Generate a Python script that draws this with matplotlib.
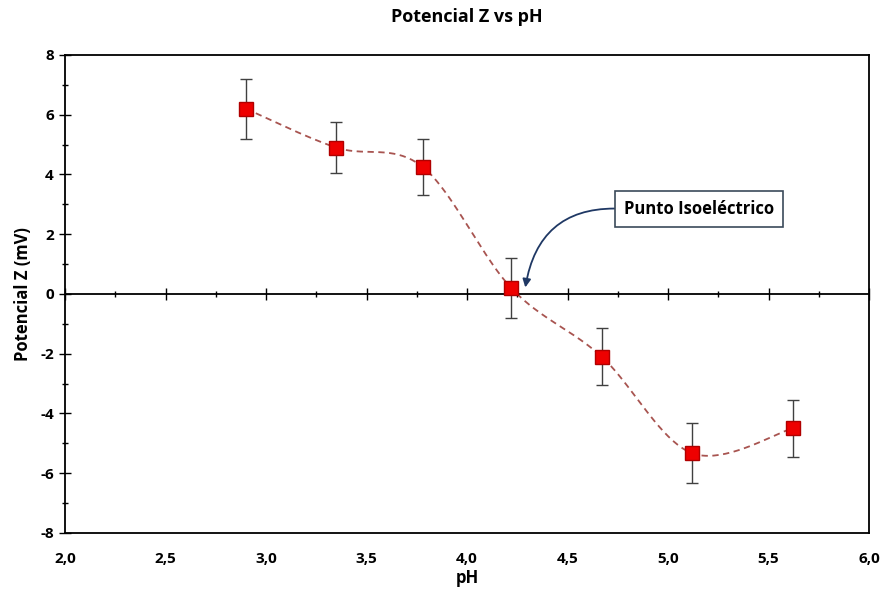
import numpy as np
import matplotlib.pyplot as plt
from matplotlib.ticker import MultipleLocator, FuncFormatter

# measured zeta potential vs pH
ph = [2.90, 3.35, 3.78, 4.22, 4.67, 5.12, 5.62]
zeta = [6.2, 4.9, 4.25, 0.2, -2.1, -5.33, -4.5]
zeta_err = [1.0, 0.85, 0.95, 1.0, 0.95, 1.0, 0.95]

plt.rcParams['font.family'] = ['Open Sans', 'DejaVu Sans']
plt.rcParams['axes.unicode_minus'] = False


def smooth_curve(x, y, n=40):
    # cubic bezier through the points, control points from neighbours (like a spreadsheet "smoothed line")
    p = np.column_stack([x, y])
    p = np.vstack([p[0], p, p[-1]])
    out = []
    for i in range(1, len(p) - 2):
        p0, p1, p2, p3 = p[i - 1], p[i], p[i + 1], p[i + 2]
        c1 = p1 + (p2 - p0) / 6
        c2 = p2 - (p3 - p1) / 6
        t = np.linspace(0, 1, n)[:, None]
        seg = (1 - t) ** 3 * p1 + 3 * (1 - t) ** 2 * t * c1 + 3 * (1 - t) * t ** 2 * c2 + t ** 3 * p2
        out.append(seg)
    seg = np.vstack(out)
    return seg[:, 0], seg[:, 1]


fig = plt.figure(figsize=(8.82, 5.92), dpi=100)
ax = fig.add_axes([0.0737, 0.0997, 0.9116, 0.8074])

sx, sy = smooth_curve(ph, zeta)
ax.plot(sx, sy, ls=(0, (3.5, 2.5)), color='#a85450', lw=1.3, zorder=2)
ax.errorbar(ph, zeta, yerr=zeta_err, fmt='none', ecolor='#404040', elinewidth=1.0,
            capsize=4, capthick=1.0, zorder=3)
ax.plot(ph, zeta, ls='none', marker='s', ms=10, mfc='#ee0000', mec='#b00000', mew=1, zorder=4)

ax.set_xlim(2.0, 6.0)
ax.set_ylim(-8, 8)
ax.yaxis.set_major_locator(MultipleLocator(2))
ax.yaxis.set_minor_locator(MultipleLocator(1))
ax.tick_params(axis='y', which='major', direction='inout', length=8, width=1, labelsize=11, pad=4)
ax.tick_params(axis='y', which='minor', direction='inout', length=5, width=1)
ax.xaxis.set_major_locator(MultipleLocator(0.5))
ax.xaxis.set_major_formatter(FuncFormatter(lambda v, _: f"{v:.1f}".replace('.', ',')))
ax.tick_params(axis='x', which='major', length=0, labelsize=11, pad=14)
for lab in ax.get_xticklabels() + ax.get_yticklabels():
    lab.set_fontweight('bold')
for s in ax.spines.values():
    s.set_linewidth(1.3)

# x ticks drawn on the zero line
ax.axhline(0, color='black', lw=1.3, zorder=1)
sec = ax.secondary_xaxis(0.5)
sec.spines['bottom'].set_visible(False)
sec.spines['top'].set_visible(False)
sec.xaxis.set_major_locator(MultipleLocator(0.5))
sec.xaxis.set_minor_locator(MultipleLocator(0.25))
sec.tick_params(which='both', labeltop=False, labelbottom=False)
sec.tick_params(which='major', direction='inout', length=8, width=1)
sec.tick_params(which='minor', direction='inout', length=5, width=1)

ax.set_title('Potencial Z vs pH', fontsize=13, fontweight='bold', pad=24)
ax.set_xlabel('pH', fontsize=12, fontweight='bold', labelpad=2)
ax.set_ylabel('Potencial Z (mV)', fontsize=12, fontweight='bold', labelpad=6)

ax.annotate('Punto Isoeléctrico', xy=(4.29, 0.22), xytext=(5.155, 2.85),
            fontsize=12, fontweight='bold', ha='center', va='center',
            bbox=dict(boxstyle='square,pad=0.55', fc='white', ec='#3b4a5a', lw=1.2),
            arrowprops=dict(arrowstyle='-|>', color='#1f3864', lw=1.3, relpos=(0, 0.5),
                            connectionstyle='arc3,rad=0.45', shrinkA=0, shrinkB=0,
                            mutation_scale=12))

fig.savefig('out.png', dpi=100)
